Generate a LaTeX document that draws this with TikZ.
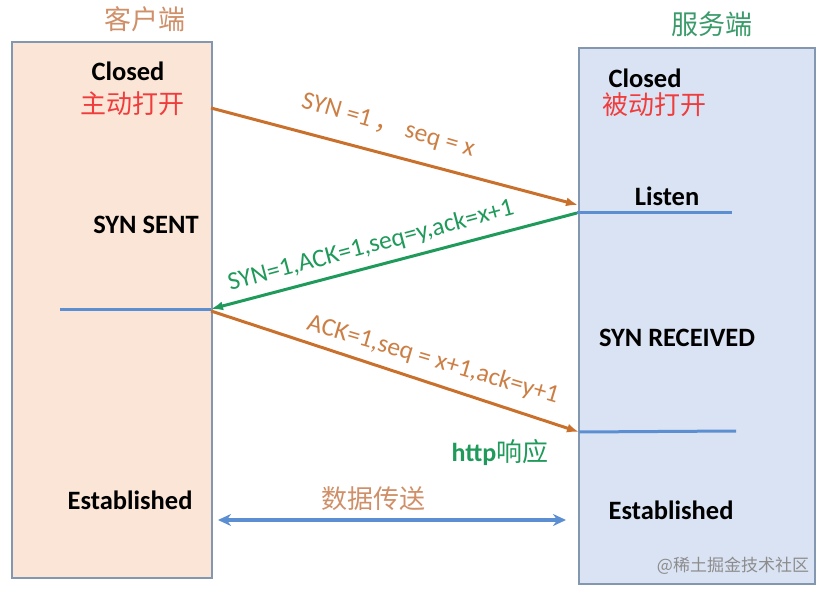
\documentclass[tikz,border=0pt]{standalone}
\usepackage{fontspec}
\setmainfont{Carlito}
\newfontfamily\cjk{Noto Sans CJK SC}
\usetikzlibrary{arrows.meta}
\definecolor{boxL}{HTML}{FBE5D6}
\definecolor{boxR}{HTML}{DAE3F3}
\definecolor{boxB}{HTML}{8497B0}
\definecolor{org}{HTML}{C8702C}
\definecolor{orgtxt}{HTML}{CC7F45}
\definecolor{ttlorg}{HTML}{CF8F68}
\definecolor{grn}{HTML}{1F9A5A}
\definecolor{ttlgrn}{HTML}{3A9A6A}
\definecolor{blu}{HTML}{5B8FD2}
\definecolor{redt}{HTML}{F03C3C}
\tikzset{
  side/.style={draw=boxB, line width=1.8pt, anchor=north west, inner sep=0pt},
  state/.style={font=\fontsize{26.5}{29}\selectfont\bfseries, text=black, inner sep=0pt},
  cn/.style={font=\fontsize{26}{30}\selectfont\cjk, inner sep=0pt},
  lbl/.style={font=\fontsize{25.5}{28}\selectfont, inner sep=0pt},
  msg/.style={line width=3pt, -{Latex[length=12pt,width=9pt]}},
  level/.style={draw=blu, line width=3pt}
}
\begin{document}
\begin{tikzpicture}[x=1pt,y=-1pt]
\useasboundingbox (0,0) rectangle (829,593);
% boxes
\node[side, fill=boxL, minimum width=200pt, minimum height=536pt] (cbox) at (11,41) {};
\node[side, fill=boxR, minimum width=236pt, minimum height=536pt] (sbox) at (578,47) {};
% titles
\node[cn, text=ttlorg, font=\fontsize{27}{30}\selectfont\cjk] (ct) at (145,19) {客户端};
\node[cn, text=ttlgrn, font=\fontsize{27}{30}\selectfont\cjk] (st) at (712,24) {服务端};
% client states
\node[state] (cclosed) at (128,71) {Closed};
\node[cn, text=redt] (copen) at (132,104) {主动打开};
\node[state] (csent) at (146,225) {SYN SENT};
\node[state] (cest) at (130,500) {Established};
% server states
\node[state] (sclosed) at (645,78) {Closed};
\node[cn, text=redt] (sopen) at (654,105) {被动打开};
\node[state] (slisten) at (667,196) {Listen};
\node[state] (srecv) at (677,338) {SYN RECEIVED};
\node[state] (sest) at (671,510) {Established};
\node[font=\fontsize{17}{19}\selectfont\cjk, text=black!45, inner sep=0pt] (wm) at (733,566) {@稀土掘金技术社区};
% anchor points on lifelines
\coordinate (c1) at (211,108);
\coordinate (s1) at (578,205);
\coordinate (s2) at (577,213);
\coordinate (c2) at (211,309);
\coordinate (c3) at (211,311);
\coordinate (s3) at (579,432);
\coordinate (cl0) at (60,309);
\coordinate (sl1) at (732,213);
\coordinate (sl2) at (736,431);
\coordinate (d1) at (218,520);
\coordinate (d2) at (566,520);
% state lines
\draw[level] (cl0) -- (c2);
\draw[level] (s2) -- (sl1);
\draw[level] (s3) -- (sl2);
% messages
\draw[msg, org] (c1) -- (s1);
\draw[msg, grn] (s2) -- (c2);
\draw[msg, org] (c3) -- (s3);
\draw[blu, line width=3.5pt, {Stealth[length=13pt,width=12pt]}-{Stealth[length=13pt,width=12pt]}] (d1) -- (d2);
% labels
\node[lbl, text=orgtxt, rotate=-16] (l1) at (388,126) {SYN =1\,{\cjk ，} seq = x};
\node[lbl, text=grn, rotate=15] (l2) at (371,246) {SYN=1,ACK=1,seq=y,ack=x+1};
\node[lbl, text=orgtxt, rotate=-16.5] (l3) at (433,360) {ACK=1,seq = x+1,ack=y+1};
\node[lbl, text=grn, font=\fontsize{26}{28}\selectfont\bfseries] (http) at (500,453) {http{\mdseries\cjk 响应}};
\node[cn, text=ttlorg] (data) at (373,499) {数据传送};
\end{tikzpicture}
\end{document}
